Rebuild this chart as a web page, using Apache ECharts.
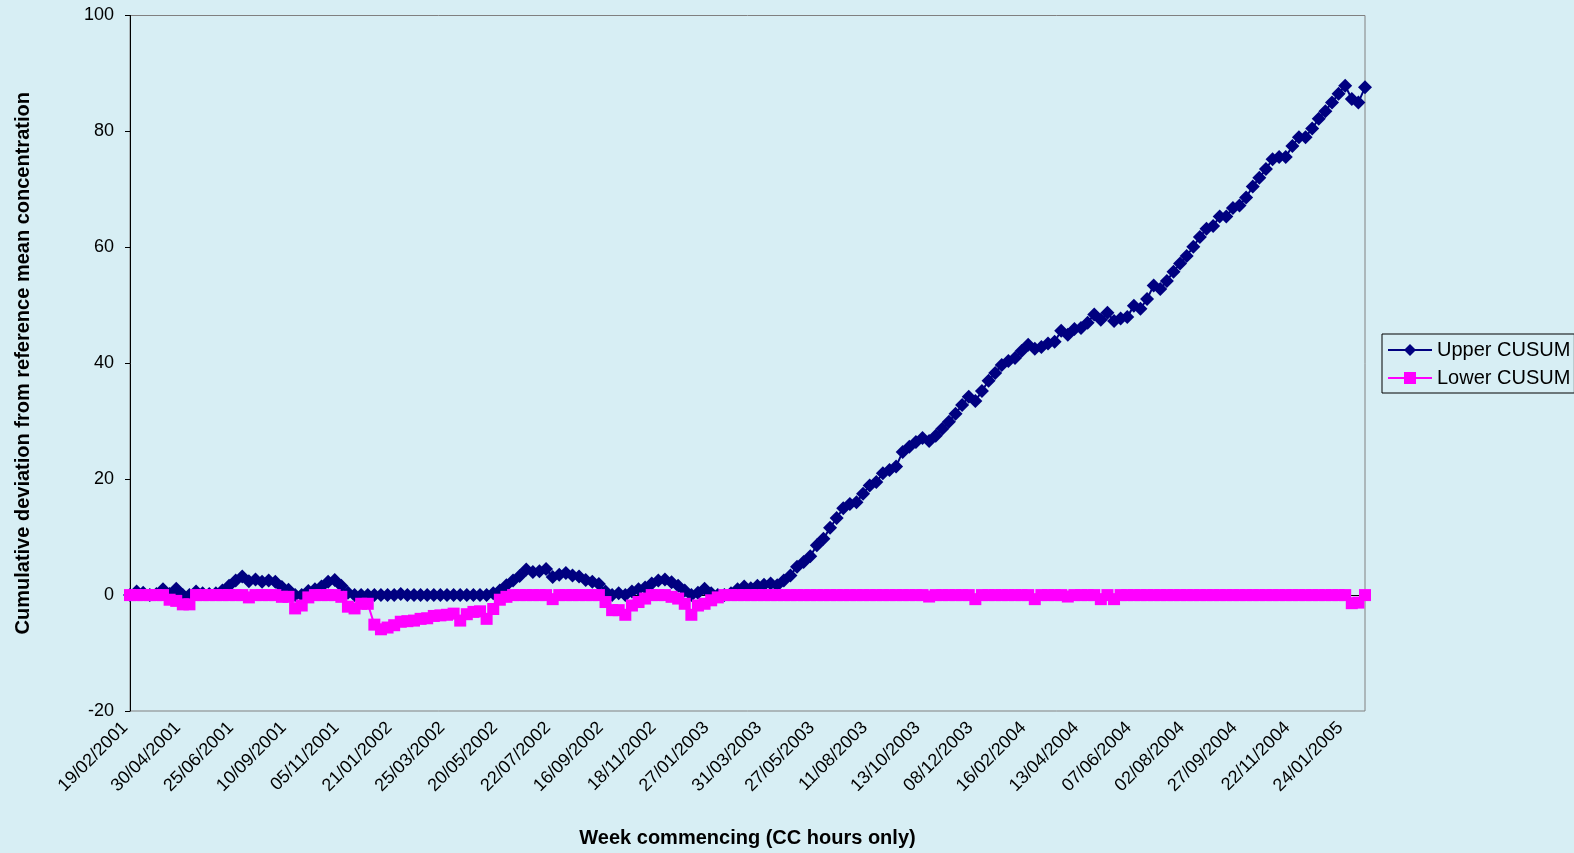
<!DOCTYPE html>
<html>
<head>
<meta charset="utf-8">
<script src="https://cdn.jsdelivr.net/npm/echarts@6/dist/echarts.min.js"></script>
<style>
html,body{margin:0;padding:0;background:#D7EEF4;}
#c{width:1574px;height:853px;}
</style>
</head>
<body>
<div id="c"></div>
<script>
const weeks = [
'19/02/2001','26/02/2001','05/03/2001','12/03/2001','19/03/2001','26/03/2001','02/04/2001','23/04/2001',
'30/04/2001','08/05/2001','14/05/2001','21/05/2001','29/05/2001','04/06/2001','11/06/2001','18/06/2001',
'25/06/2001','02/07/2001','09/07/2001','16/07/2001','23/07/2001','20/08/2001','28/08/2001','03/09/2001',
'10/09/2001','17/09/2001','24/09/2001','01/10/2001','08/10/2001','15/10/2001','22/10/2001','29/10/2001',
'05/11/2001','12/11/2001','19/11/2001','26/11/2001','03/12/2001','10/12/2001','07/01/2002','14/01/2002',
'21/01/2002','28/01/2002','04/02/2002','11/02/2002','25/02/2002','04/03/2002','11/03/2002','18/03/2002',
'25/03/2002','02/04/2002','08/04/2002','15/04/2002','22/04/2002','29/04/2002','07/05/2002','13/05/2002',
'20/05/2002','28/05/2002','10/06/2002','17/06/2002','24/06/2002','01/07/2002','08/07/2002','15/07/2002',
'22/07/2002','29/07/2002','05/08/2002','12/08/2002','19/08/2002','27/08/2002','02/09/2002','09/09/2002',
'16/09/2002','23/09/2002','30/09/2002','07/10/2002','14/10/2002','21/10/2002','04/11/2002','11/11/2002',
'18/11/2002','25/11/2002','02/12/2002','09/12/2002','16/12/2002','06/01/2003','13/01/2003','20/01/2003',
'27/01/2003','03/02/2003','10/02/2003','24/02/2003','03/03/2003','10/03/2003','17/03/2003','24/03/2003',
'31/03/2003','07/04/2003','14/04/2003','22/04/2003','28/04/2003','06/05/2003','12/05/2003','19/05/2003',
'27/05/2003','02/06/2003','09/06/2003','16/06/2003','23/06/2003','30/06/2003','07/07/2003','14/07/2003',
'11/08/2003','26/08/2003','01/09/2003','08/09/2003','15/09/2003','22/09/2003','29/09/2003','06/10/2003',
'13/10/2003','20/10/2003','27/10/2003','03/11/2003','10/11/2003','17/11/2003','24/11/2003','01/12/2003',
'08/12/2003','15/12/2003','05/01/2004','12/01/2004','19/01/2004','26/01/2004','02/02/2004','09/02/2004',
'16/02/2004','23/02/2004','01/03/2004','08/03/2004','15/03/2004','22/03/2004','29/03/2004','05/04/2004',
'13/04/2004','19/04/2004','26/04/2004','04/05/2004','10/05/2004','17/05/2004','24/05/2004','01/06/2004',
'07/06/2004','14/06/2004','21/06/2004','28/06/2004','05/07/2004','12/07/2004','19/07/2004','26/07/2004',
'02/08/2004','09/08/2004','16/08/2004','23/08/2004','31/08/2004','06/09/2004','13/09/2004','20/09/2004',
'27/09/2004','04/10/2004','11/10/2004','18/10/2004','25/10/2004','01/11/2004','08/11/2004','15/11/2004',
'22/11/2004','29/11/2004','06/12/2004','13/12/2004','20/12/2004','04/01/2005','10/01/2005','17/01/2005',
'24/01/2005','31/01/2005','07/02/2005','14/02/2005'
];

const upperCusum = [
0,0.6,0.4,0,0.2,1.0,0.2,1.1,0,0,
0.6,0.3,0.2,0.3,0.8,1.6,2.5,3.2,2.4,2.7,
2.3,2.5,2.3,1.4,0.9,0,0,0.7,1.0,1.5,
2.3,2.6,1.6,0.4,0,0,0,0,0,0,
0,0.2,0,0,0,0,0,0,0,0,
0,0,0,0,0,0.3,0.8,1.7,2.5,3.3,
4.4,4.0,4.1,4.5,3.1,3.5,3.8,3.4,3.2,2.6,
2.3,1.9,0.6,0,0.3,0,0.6,1.0,1.3,2.0,
2.5,2.7,2.2,1.6,0.8,0,0.4,1.1,0.3,0,
0,0.3,1.0,1.5,1.2,1.6,1.8,2.0,1.7,2.5,
3.4,4.9,5.7,6.7,8.6,9.7,11.6,13.3,15.0,15.7,
16.0,17.5,18.9,19.5,21.0,21.6,22.2,24.7,25.6,26.4,
27.1,26.6,27.5,28.7,29.9,31.3,32.8,34.2,33.5,35.2,
37.0,38.3,39.7,40.4,40.9,42.1,43.2,42.5,42.8,43.4,
43.7,45.6,44.9,45.9,46.1,47.0,48.4,47.5,48.7,47.3,
47.7,48.0,49.9,49.4,51.1,53.4,52.8,54.2,55.8,57.2,
58.5,60.1,61.8,63.2,63.7,65.3,65.3,66.8,67.2,68.6,
70.5,72.0,73.5,75.2,75.6,75.6,77.5,79.0,79.0,80.5,
82.2,83.5,85.0,86.5,87.9,85.6,85.0,87.6
];

const lowerCusum = [
0,0,0,0,0,0,-0.8,-1.0,-1.6,-1.6,
0,0,0,0,0,0,0,0,-0.4,0,
0,0,0,-0.3,-0.3,-2.3,-1.8,-0.4,0,0,
0,0,-0.3,-2.0,-2.3,-1.5,-1.5,-5.1,-5.9,-5.6,
-5.2,-4.6,-4.5,-4.4,-4.1,-4.0,-3.6,-3.5,-3.4,-3.2,
-4.4,-3.3,-2.9,-2.8,-4.1,-2.4,-0.8,-0.3,0,0,
0,0,0,0,-0.7,0,0,0,0,0,
0,0,-1.2,-2.6,-2.6,-3.4,-1.8,-1.2,-0.6,0,
0,0,-0.3,-0.6,-1.5,-3.4,-1.8,-1.5,-0.9,-0.4,
0,0,0,0,0,0,0,0,0,0,
0,0,0,0,0,0,0,0,0,0,
0,0,0,0,0,0,0,0,0,0,
0,-0.25,0,0,0,0,0,0,-0.7,0,
0,0,0,0,0,0,0,-0.7,0,0,
0,0,-0.25,0,0,0,0,-0.7,0,-0.7,
0,0,0,0,0,0,0,0,0,0,
0,0,0,0,0,0,0,0,0,0,
0,0,0,0,0,0,0,0,0,0,
0,0,0,0,0,-1.4,-1.3,0
];

const seriesNames = ['Upper CUSUM', 'Lower CUSUM'];
const yTicks = {min: -20, max: 100, step: 20};

const FONT = '"Liberation Sans", Arial, sans-serif';
const BG = '#D7EEF4';

const chart = echarts.init(document.getElementById('c'), null, {renderer: 'canvas'});
chart.setOption({
  backgroundColor: BG,
  animation: false,
  textStyle: {fontFamily: FONT, color: '#000'},
  grid: {
    left: 130, right: 209, top: 15.5, bottom: 140.3,
    show: true, borderColor: '#808080', borderWidth: 1, backgroundColor: 'transparent'
  },
  legend: {
    orient: 'vertical',
    left: 1382, top: 334,
    backgroundColor: BG,
    borderColor: '#000', borderWidth: 1, borderRadius: 0,
    padding: [6, 4, 5, 5],
    itemGap: 8,
    itemWidth: 44, itemHeight: 15,
    textStyle: {fontSize: 20, color: '#000', fontFamily: FONT},
    data: seriesNames
  },
  xAxis: {
    type: 'category',
    data: weeks,
    boundaryGap: false,
    axisLine: {show: true, lineStyle: {color: '#000', width: 1}},
    axisTick: {show: true, interval: 7, length: 5, lineStyle: {color: '#000'}},
    axisLabel: {interval: 7, rotate: 45, fontSize: 18, color: '#000', margin: 9,
                padding: [0, 7, 0, 0], fontFamily: FONT},
    splitLine: {show: false},
    name: 'Week commencing (CC hours only)',
    nameLocation: 'middle',
    nameGap: 117,
    nameTextStyle: {fontWeight: 'bold', fontSize: 20, color: '#000', fontFamily: FONT}
  },
  yAxis: {
    type: 'value',
    min: yTicks.min, max: yTicks.max, interval: yTicks.step,
    axisLine: {show: true, lineStyle: {color: '#000', width: 1}},
    axisTick: {show: true, length: 5, lineStyle: {color: '#000'}},
    axisLabel: {fontSize: 18, color: '#000', margin: 16, fontFamily: FONT},
    splitLine: {show: false},
    name: 'Cumulative deviation from reference mean concentration',
    nameLocation: 'middle',
    nameGap: 97,
    nameTextStyle: {fontWeight: 'bold', fontSize: 20, color: '#000', fontFamily: FONT}
  },
  series: [
    {
      name: seriesNames[0], type: 'line', data: upperCusum,
      symbol: 'diamond', symbolSize: 14, showSymbol: true, showAllSymbol: true,
      clip: false,
      lineStyle: {color: '#000080', width: 2},
      itemStyle: {color: '#000080'},
      z: 2
    },
    {
      name: seriesNames[1], type: 'line', data: lowerCusum,
      symbol: 'rect', symbolSize: 12, showSymbol: true, showAllSymbol: true,
      clip: false,
      lineStyle: {color: '#FF00FF', width: 2},
      itemStyle: {color: '#FF00FF'},
      z: 3
    }
  ]
});
</script>
</body>
</html>
